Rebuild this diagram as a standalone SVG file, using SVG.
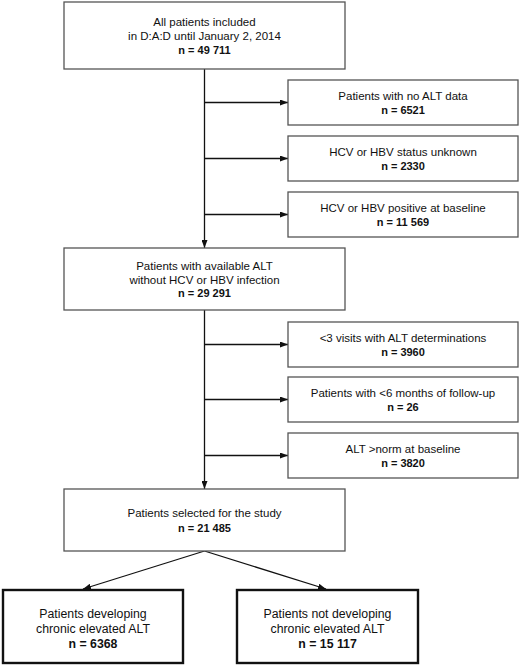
<svg xmlns="http://www.w3.org/2000/svg" width="520" height="666" viewBox="0 0 520 666">
<style>
.box{fill:#fff;stroke:#555;stroke-width:1.3}
.tbox{fill:#fff;stroke:#111;stroke-width:2.4}
text{font-family:"Liberation Sans",Arial,sans-serif;font-size:11.5px;fill:#111;text-anchor:middle}
.b{font-weight:bold;font-size:11px}
.big{font-size:12.3px}
.bigb{font-size:12.3px;font-weight:bold}
.ln{stroke:#111;stroke-width:1.3;fill:none}
</style>
<defs>
<marker id="ah" viewBox="0 0 8 6" refX="8" refY="3" markerWidth="8" markerHeight="6" markerUnits="userSpaceOnUse" orient="auto">
<path d="M0,0 L8,3 L0,6 Z" fill="#111"/>
</marker>
</defs>
<rect width="520" height="666" fill="#fff"/>
<g id="connectors">
<path class="ln" d="M204.5,69 V248" marker-end="url(#ah)"/>
<path class="ln" d="M204.5,102.5 H288" marker-end="url(#ah)"/>
<path class="ln" d="M204.5,158.5 H288" marker-end="url(#ah)"/>
<path class="ln" d="M204.5,214.5 H288" marker-end="url(#ah)"/>
<path class="ln" d="M204.5,310 V489" marker-end="url(#ah)"/>
<path class="ln" d="M204.5,344.5 H288" marker-end="url(#ah)"/>
<path class="ln" d="M204.5,399.5 H288" marker-end="url(#ah)"/>
<path class="ln" d="M204.5,455.5 H288" marker-end="url(#ah)"/>
<path class="ln" d="M204.5,551 L83,589" marker-end="url(#ah)"/>
<path class="ln" d="M204.5,551 L326,589" marker-end="url(#ah)"/>
</g>
<g id="all">
<rect class="box" x="64" y="2" width="281" height="67"/>
<text x="204.5" y="26">All patients included</text>
<text x="204.5" y="40">in D:A:D until January 2, 2014</text>
<text class="b" x="204.5" y="53.5">n = 49 711</text>
</g>
<g id="noalt">
<rect class="box" x="288" y="80" width="230" height="45"/>
<text x="403" y="100">Patients with no ALT data</text>
<text class="b" x="403" y="113.5">n = 6521</text>
</g>
<g id="unknown">
<rect class="box" x="288" y="136" width="230" height="45"/>
<text x="403" y="156">HCV or HBV status unknown</text>
<text class="b" x="403" y="169.5">n = 2330</text>
</g>
<g id="positive">
<rect class="box" x="288" y="192" width="230" height="45"/>
<text x="403" y="212">HCV or HBV positive at baseline</text>
<text class="b" x="403" y="225.5">n = 11 569</text>
</g>
<g id="available">
<rect class="box" x="64" y="248" width="281" height="62"/>
<text x="204.5" y="269.5">Patients with available ALT</text>
<text x="204.5" y="283.5">without HCV or HBV infection</text>
<text class="b" x="204.5" y="297">n = 29 291</text>
</g>
<g id="visits">
<rect class="box" x="288" y="322" width="230" height="45"/>
<text x="403" y="342">&lt;3 visits with ALT determinations</text>
<text class="b" x="403" y="355.5">n = 3960</text>
</g>
<g id="followup">
<rect class="box" x="288" y="377" width="230" height="45"/>
<text x="403" y="397">Patients with &lt;6 months of follow-up</text>
<text class="b" x="403" y="410.5">n = 26</text>
</g>
<g id="norm">
<rect class="box" x="288" y="433" width="230" height="45"/>
<text x="403" y="453">ALT &gt;norm at baseline</text>
<text class="b" x="403" y="466.5">n = 3820</text>
</g>
<g id="selected">
<rect class="box" x="64" y="489" width="281" height="62"/>
<text x="204.5" y="517">Patients selected for the study</text>
<text class="b" x="204.5" y="531.5">n = 21 485</text>
</g>
<g id="developing">
<rect class="tbox" x="3" y="590" width="180" height="73"/>
<text class="big" x="93" y="617.5">Patients developing</text>
<text class="big" x="93" y="632.5">chronic elevated ALT</text>
<text class="bigb" x="93" y="647.5">n = 6368</text>
</g>
<g id="notdeveloping">
<rect class="tbox" x="237" y="590" width="181" height="73"/>
<text class="big" x="327.5" y="617.5">Patients not developing</text>
<text class="big" x="327.5" y="632.5">chronic elevated ALT</text>
<text class="bigb" x="327.5" y="647.5">n = 15 117</text>
</g>
</svg>
